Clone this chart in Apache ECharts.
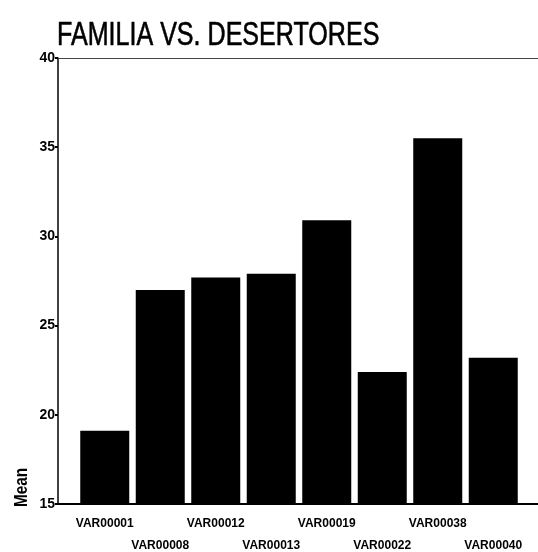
<!DOCTYPE html>
<html>
<head>
<meta charset="utf-8">
<script src="https://cdn.jsdelivr.net/npm/echarts@6/dist/echarts.min.js"></script>
<style>html,body{margin:0;padding:0;background:#fff;}#c{width:538px;height:552px;}</style>
</head>
<body>
<div id="c"></div>
<script>
var categories = ['VAR00001','VAR00008','VAR00012','VAR00013','VAR00019','VAR00022','VAR00038','VAR00040'];
var means = [19.1, 27.0, 27.7, 27.9, 30.9, 22.4, 35.5, 23.2];
var yTicks = [15, 20, 25, 30, 35, 40];
var titleText = 'FAMILIA VS. DESERTORES';
var yName = 'Mean';

var font = '"Liberation Sans", Arial, sans-serif';
var chart = echarts.init(document.getElementById('c'), null, {renderer: 'canvas'});
var yMin = yTicks[0], yMax = yTicks[yTicks.length - 1];
chart.setOption({
  animation: false,
  backgroundColor: '#fff',
  graphic: [
    {type: 'text', x: 57, y: 19, scaleX: 0.76,
     style: {text: titleText, font: '33px ' + font, fill: '#000', stroke: '#000', lineWidth: 0.6, textAlign: 'left', textVerticalAlign: 'top'}},
    {type: 'text', x: 22, y: 507, rotation: Math.PI / 2, scaleX: 0.85,
     style: {text: yName, font: 'bold 18px ' + font, fill: '#000', textAlign: 'left', textVerticalAlign: 'middle'}}
  ],
  grid: [
    {left: 58, right: 0, top: 58, bottom: 48, outerBoundsMode: 'none', containLabel: false},
    {left: 77, right: 17, top: 58, bottom: 48, outerBoundsMode: 'none', containLabel: false}
  ],
  xAxis: [
    {gridIndex: 0, type: 'value', min: 0, max: 1, position: 'bottom',
     axisLine: {show: true, lineStyle: {color: '#000', width: 2}},
     axisTick: {show: false}, axisLabel: {show: false}, splitLine: {show: false}},
    {gridIndex: 0, type: 'value', min: 0, max: 1, position: 'top',
     axisLine: {show: true, lineStyle: {color: '#444', width: 1}},
     axisTick: {show: false}, axisLabel: {show: false}, splitLine: {show: false}},
    {gridIndex: 1, type: 'category', data: categories, position: 'bottom',
     axisLine: {show: false}, axisTick: {show: false}, splitLine: {show: false},
     axisLabel: {
       interval: 0, margin: 9, color: '#000', fontFamily: font, fontSize: 12, fontWeight: 'bold',
       lineHeight: 22,
       formatter: function (v, i) { return i % 2 === 0 ? v : '\n' + v; }
     }}
  ],
  yAxis: [
    {gridIndex: 0, type: 'value', min: yMin, max: yMax, interval: 5,
     axisLine: {show: true, lineStyle: {color: '#000', width: 1.5}},
     axisTick: {show: true, inside: false, length: 3, lineStyle: {color: '#000', width: 2}},
     axisLabel: {color: '#000', fontFamily: font, fontSize: 14, fontWeight: 'bold', margin: 3},
     splitLine: {show: false}},
    {gridIndex: 1, type: 'value', min: yMin, max: yMax, show: false}
  ],
  series: [{
    type: 'bar', xAxisIndex: 2, yAxisIndex: 1,
    data: means, barWidth: 49,
    itemStyle: {color: '#000'}
  }]
});
</script>
</body>
</html>
